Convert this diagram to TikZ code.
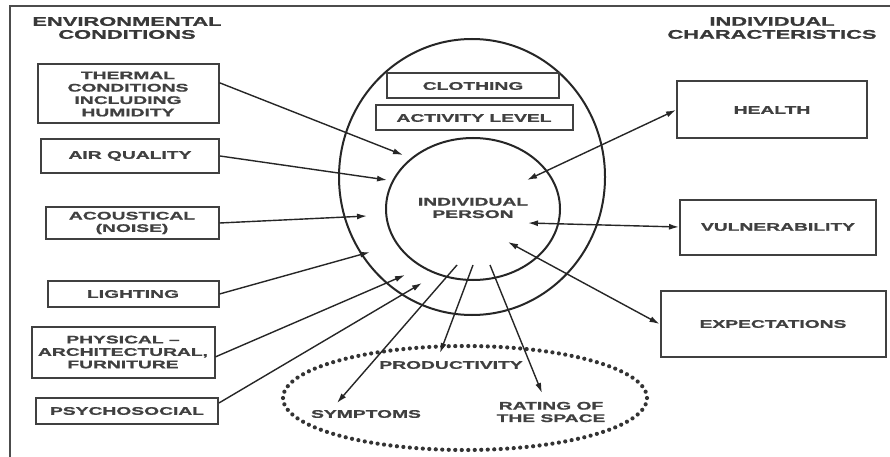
\documentclass[tikz,border=0pt]{standalone}
\usepackage{fontspec}
\usetikzlibrary{arrows.meta,shapes.geometric}
\newfontfamily\diafont{Liberation Sans}[FakeStretch=1.75, FakeBold=1.2]

\tikzset{
  lab/.style={font=\diafont\bfseries\fontsize{11}{12.4}\selectfont, text=black!75, align=center, inner sep=0pt},
  ttl/.style={font=\diafont\bfseries\fontsize{12.5}{13}\selectfont, text=black!78, align=center, inner sep=0pt},
  fbox/.style={lab, draw=black!75, line width=2pt},
  arr/.style={-{Latex[length=10pt,width=6pt]}, line width=1.4pt, black!85},
  darr/.style={{Latex[length=10pt,width=6pt]}-{Latex[length=10pt,width=6pt]}, line width=1.4pt, black!85},
}

\begin{document}
\begin{tikzpicture}[x=1pt, y=-1pt]
  \useasboundingbox (0,0) rectangle (890,457);
  \fill[white] (0,0) rectangle (890,457);
  % frame
  \draw[black!70, line width=2pt] (10,457) -- (10,6) -- (890,6);

  % titles
  \node[ttl] (envtitle) at (127,28) {ENVIRONMENTAL\\CONDITIONS};
  \node[ttl] (indtitle) at (772,28) {INDIVIDUAL\\CHARACTERISTICS};

  % the person and what surrounds it
  \node[ellipse, draw=black!85, line width=2pt, minimum width=266pt, minimum height=276pt] (zone) at (472,177) {};
  \node[ellipse, draw=black!85, line width=2pt, minimum width=174pt, minimum height=142pt, lab] (person) at (473,209) {};
  \node[lab] (personlab) at (473,208) {INDIVIDUAL\\PERSON};
  \node[fbox, minimum width=172pt, minimum height=25pt] (clothing) at (473,86) {CLOTHING};
  \node[fbox, minimum width=197pt, minimum height=25pt] (activity) at (474,118) {ACTIVITY LEVEL};

  % outcomes
  \node[ellipse, draw=black!80, line width=4.2pt, line cap=round, dash pattern=on 0pt off 6.5pt,
        minimum width=364pt, minimum height=104pt] (outcomes) at (465,398) {};
  \node[lab] (prod) at (451,365) {PRODUCTIVITY};
  \node[lab] (sympt) at (366,414) {SYMPTOMS};
  \node[lab] (rating) at (551,412) {RATING OF\\THE SPACE};

  % environmental conditions
  \node[fbox, minimum width=181pt, minimum height=59pt] (thermal) at (128,94) {THERMAL\\CONDITIONS\\INCLUDING\\HUMIDITY};
  \node[fbox, minimum width=178pt, minimum height=34pt] (air) at (130,156) {AIR QUALITY};
  \node[fbox, minimum width=173pt, minimum height=32pt] (acoustic) at (132,223) {ACOUSTICAL\\(NOISE)};
  \node[fbox, minimum width=171pt, minimum height=26pt] (lighting) at (133,294) {LIGHTING};
  \node[fbox, minimum width=183pt, minimum height=51pt] (physical) at (123,352) {PHYSICAL \textendash\\ARCHITECTURAL,\\FURNITURE};
  \node[fbox, minimum width=182pt, minimum height=26pt] (psycho) at (127,411) {PSYCHOSOCIAL};

  % individual characteristics
  \node[fbox, minimum width=190pt, minimum height=57pt] (health) at (772,110) {HEALTH};
  \node[fbox, minimum width=196pt, minimum height=55pt] (vuln) at (778,227) {VULNERABILITY};
  \node[fbox, minimum width=225pt, minimum height=66pt] (expect) at (773,324) {EXPECTATIONS};

  % arrow ends
  \coordinate (tthermal) at (403,155);
  \coordinate (tair) at (387,180);
  \coordinate (tacou) at (367,216);
  \coordinate (tlight) at (370,252);
  \coordinate (tphys) at (405,275);
  \coordinate (tpsy) at (422,283);
  \coordinate (thealth) at (527,180);
  \coordinate (tvuln) at (528,223);
  \coordinate (texpect) at (508,242);
  \coordinate (fsympt) at (457,265);
  \coordinate (fprod) at (473,265);
  \coordinate (frating) at (490,265);
  \coordinate (hsympt) at (337,403);
  \coordinate (hprod) at (440,353);
  \coordinate (hrating) at (542,393);

  \draw[arr] (thermal.7) -- (tthermal);
  \draw[arr] (air.east) -- (tair);
  \draw[arr] (acoustic.east) -- (tacou);
  \draw[arr] (lighting.east) -- (tlight);
  \draw[arr] (physical.-3) -- (tphys);
  \draw[arr] (psycho.5) -- (tpsy);
  \draw[darr] (thealth) -- (health.west);
  \draw[darr] (tvuln) -- (vuln.west);
  \draw[darr] (texpect) -- (expect.west);
  \draw[arr] (fsympt) -- (hsympt);
  \draw[arr] (fprod) -- (hprod);
  \draw[arr] (frating) -- (hrating);
\end{tikzpicture}
\end{document}
